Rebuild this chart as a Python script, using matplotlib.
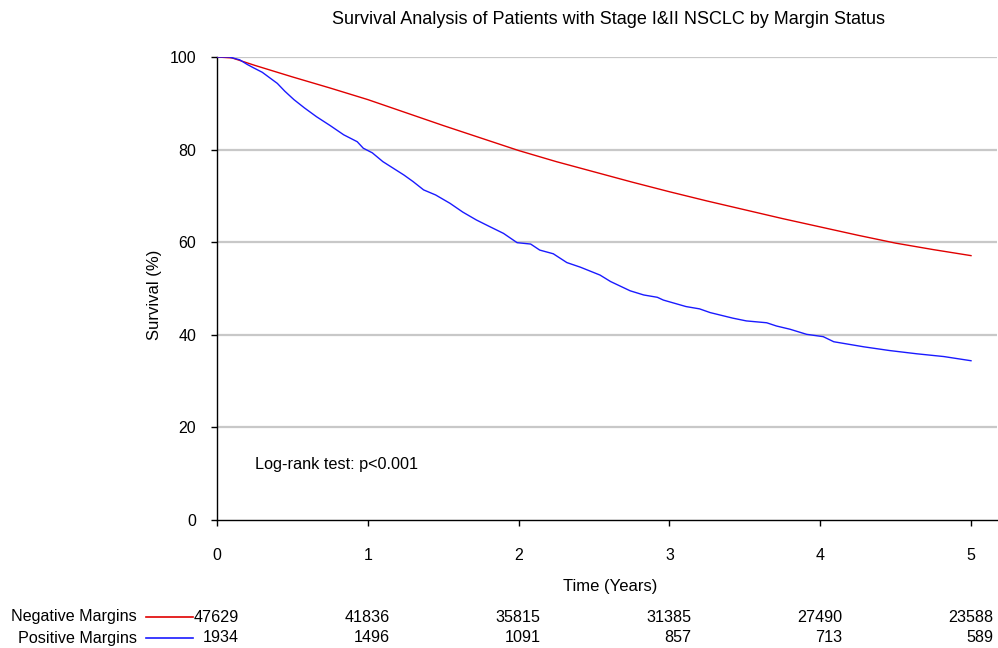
import matplotlib
matplotlib.use("Agg")
import matplotlib.pyplot as plt
from matplotlib.lines import Line2D

plt.rcParams['font.family'] = ['Liberation Sans', 'DejaVu Sans']

# ---------------- data ----------------
title = "Survival Analysis of Patients with Stage I&II NSCLC by Margin Status"

neg_t = [0.0, 0.1, 0.25, 0.5, 0.75, 1.0, 1.25, 1.5, 1.75, 2.0, 2.25, 2.5,
         2.75, 3.0, 3.25, 3.5, 3.75, 4.0, 4.25, 4.5, 4.75, 5.0]
neg_s = [100.0, 99.8, 98.2, 95.7, 93.3, 90.8, 88.0, 85.2, 82.5, 79.8, 77.4, 75.2,
         73.0, 70.9, 68.9, 67.0, 65.1, 63.3, 61.5, 59.8, 58.4, 57.1]

pos_t = [0.0, 0.08, 0.15, 0.2, 0.24, 0.3, 0.4, 0.45, 0.51, 0.58, 0.66, 0.75,
         0.84, 0.93, 0.97, 1.03, 1.10, 1.24, 1.30, 1.37, 1.45, 1.545, 1.63,
         1.72, 1.80, 1.90, 1.99, 2.08, 2.14, 2.23, 2.32, 2.41, 2.54, 2.61,
         2.74, 2.83, 2.92, 2.96, 3.11, 3.20, 3.27, 3.42, 3.51, 3.645, 3.71,
         3.80, 3.87, 3.91, 4.02, 4.09, 4.29, 4.46, 4.64, 4.82, 5.0]
pos_s = [100.0, 100.0, 99.4, 98.4, 97.7, 96.7, 94.3, 92.6, 90.8, 89.0, 87.1, 85.2,
         83.2, 81.7, 80.3, 79.3, 77.4, 74.5, 73.1, 71.3, 70.2, 68.4, 66.5,
         64.8, 63.5, 61.9, 59.9, 59.6, 58.3, 57.5, 55.6, 54.6, 52.9, 51.5,
         49.5, 48.6, 48.1, 47.5, 46.1, 45.6, 44.8, 43.6, 43.0, 42.6, 41.9,
         41.2, 40.5, 40.1, 39.6, 38.5, 37.4, 36.6, 35.9, 35.3, 34.4]

risk_times = [0, 1, 2, 3, 4, 5]
neg_risk = [47629, 41836, 35815, 31385, 27490, 23588]
pos_risk = [1934, 1496, 1091, 857, 713, 589]
group_labels = ["Negative Margins", "Positive Margins"]
x_ticks = [0, 1, 2, 3, 4, 5]
y_ticks = [0, 20, 40, 60, 80, 100]

# ---------------- figure ----------------
W, H = 998, 648
fig = plt.figure(figsize=(W / 100, H / 100), dpi=100)
ax = fig.add_axes([217 / W, 1 - 520 / H, (997 - 217) / W, (520 - 57) / H])

red = "#e00000"
blue = "#1a1aff"

for yv in y_ticks[1:]:
    ax.axhline(yv, color="#c8c8c8", lw=1.6, zorder=1)

ax.plot(neg_t, neg_s, color=red, lw=1.0, zorder=3)
ax.plot(pos_t, pos_s, color=blue, lw=1.0, zorder=3)

ax.set_xlim(0, 5 * (997 - 217) / (971 - 217))
ax.set_ylim(0, 100)
ax.set_xticks(x_ticks)
ax.set_yticks(y_ticks)
ax.set_xticklabels([str(v) for v in x_ticks])
ax.set_yticklabels([str(v) for v in y_ticks])
ax.tick_params(axis='x', direction='out', length=4, width=1, pad=16, labelsize=11.5)
ax.tick_params(axis='y', direction='out', length=4, width=1, pad=11, labelsize=11.5)
for s in ['top', 'right']:
    ax.spines[s].set_visible(False)
for s in ['left', 'bottom']:
    ax.spines[s].set_color('black')
    ax.spines[s].set_linewidth(1.0)

ax.text(0.25, 11.9, "Log-rank test: p<0.001", fontsize=11.7, va='center', ha='left')

fig.text(608 / W, 1 - 20 / H, title, fontsize=13, ha='center', va='center')
fig.text(610 / W, 1 - 587 / H, "Time (Years)", fontsize=12, ha='center', va='center')
fig.text(155 / W, 1 - 295 / H, "Survival (%)", fontsize=12, ha='center', va='center',
         rotation=90)

# number at risk rows
row_y = [617, 638]
row_colors = [red, blue]
row_vals = [neg_risk, pos_risk]
off = 22 * (5 / (971 - 217))
for lab, yy, col, vals in zip(group_labels, row_y, row_colors, row_vals):
    fig.text(137 / W, 1 - yy / H, lab, fontsize=11.6, ha='right', va='center')
    fig.add_artist(Line2D([146 / W, 193 / W], [1 - yy / H, 1 - yy / H], color=col, lw=1.2))
    for t, v in zip(risk_times, vals):
        ax.annotate(str(v), xy=(t + off, 1 - yy / H), xycoords=('data', 'figure fraction'),
                    ha='right', va='center', fontsize=11.6, annotation_clip=False)

fig.savefig("out.png", dpi=100)
